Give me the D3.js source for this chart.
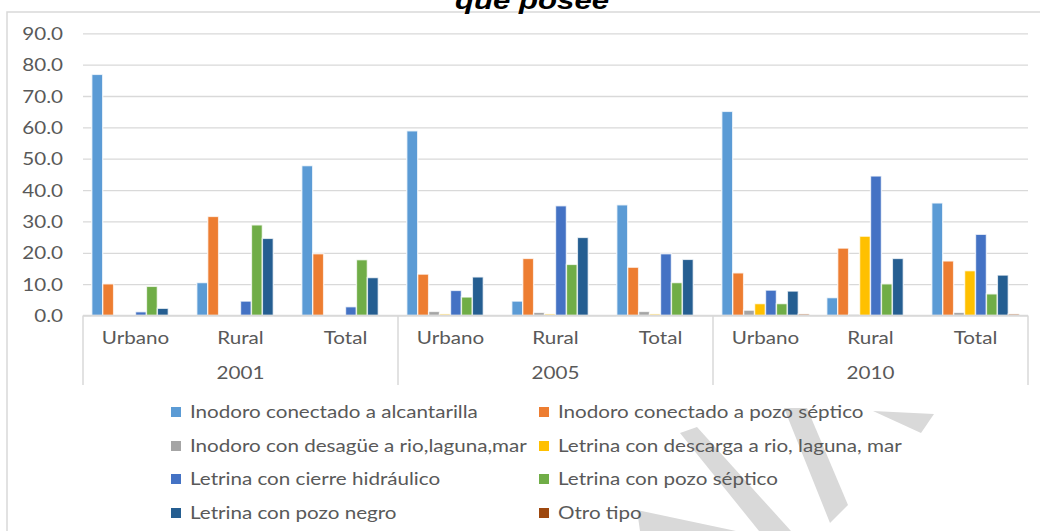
<!DOCTYPE html>
<html>
<head>
<meta charset="utf-8">
<script src="https://cdn.jsdelivr.net/npm/d3@7"></script>
<style>
  html, body { margin: 0; padding: 0; background: #fff; }
  svg { display: block; }
  text { font-family: Lato, "Open Sans", sans-serif; fill: #595959; }
</style>
</head>
<body>
<svg id="chart" width="1040" height="531"></svg>
<script>
// ---- data ----
const years = ["2001", "2005", "2010"];
const areas = ["Urbano", "Rural", "Total"];
const seriesNames = [
  "Inodoro conectado a alcantarilla",
  "Inodoro conectado a pozo séptico",
  "Inodoro con desagüe a rio,laguna,mar",
  "Letrina con descarga a rio, laguna, mar",
  "Letrina con cierre hidráulico",
  "Letrina con pozo séptico",
  "Letrina con pozo negro",
  "Otro tipo"
];
// values in order: 2001 Urbano, Rural, Total, 2005 Urbano, Rural, Total, 2010 Urbano, Rural, Total
const inodoroAlcantarilla = [76.9, 10.5, 47.8, 58.9, 4.6, 35.3, 65.1, 5.7, 35.9];
const inodoroPozoSeptico  = [10.1, 31.6, 19.7, 13.2, 18.2, 15.4, 13.6, 21.5, 17.4];
const inodoroDesague      = [0, 0, 0, 1.3, 1.0, 1.3, 1.7, 0.4, 1.0];
const letrinaDescarga     = [0, 0, 0, 0.5, 0.5, 0.5, 3.8, 25.3, 14.3];
const letrinaCierre       = [1.2, 4.6, 2.8, 8.0, 35.0, 19.7, 8.1, 44.5, 25.9];
const letrinaPozoSeptico  = [9.3, 28.9, 17.8, 5.9, 16.3, 10.5, 3.8, 10.1, 6.9];
const letrinaPozoNegro    = [2.3, 24.6, 12.1, 12.3, 24.9, 17.9, 7.8, 18.2, 12.9];
const otroTipo            = [0, 0, 0, 0, 0, 0, 0.5, 0, 0.5];
const yTicks = [0, 10, 20, 30, 40, 50, 60, 70, 80, 90];
const titleText = "que posee";

const seriesValues = [inodoroAlcantarilla, inodoroPozoSeptico, inodoroDesague, letrinaDescarga,
                      letrinaCierre, letrinaPozoSeptico, letrinaPozoNegro, otroTipo];
const colors = ["#5B9BD5", "#ED7D31", "#A5A5A5", "#FFC000", "#4472C4", "#70AD47", "#255E91", "#9E480E"];

// ---- layout ----
const svg = d3.select("#chart");
const L = 83, R = 1028, T = 33.3, B = 315.5;
const SX = 1.25;          // horizontal stretch of text
const FS = "16.5px";
const grid = "#d9d9d9";

// categories: year|area
const cats = [];
years.forEach(yr => areas.forEach(a => cats.push(yr + "|" + a)));

const x0 = d3.scaleBand().domain(cats).range([L, R]).padding(0);
const x1 = d3.scaleBand().domain(d3.range(seriesNames.length)).range([0, x0.bandwidth()])
  .paddingInner(0).paddingOuter(0.8);
const xYear = d3.scaleBand().domain(years).range([L, R]).padding(0);
const y = d3.scaleLinear().domain([0, 90]).range([B, T]);

// watermark (decorative)
const wm = svg.append("g").attr("fill", "#d9d9d9");
[
  [[680,433],[697,427],[791,531],[759,531]],
  [[784,408],[807,408],[848,505],[830,523]],
  [[873,411],[934,414],[921,433]],
  [[637,510],[736,531],[640,531]]
].forEach(p => wm.append("polygon").attr("points", p.map(q => q.join(",")).join(" ")));

// chart border
svg.append("rect").attr("x", 7).attr("y", 12).attr("width", 1060).attr("height", 560)
  .attr("fill", "none").attr("stroke", grid).attr("stroke-width", 1.5);

// title (cut off at the top, as in the source)
svg.append("text").attr("transform", `translate(532,8.5) scale(1.2,1)`)
  .attr("text-anchor", "middle")
  .style("font-family", "'Liberation Sans', Arial, sans-serif")
  .style("font-weight", "bold").style("font-style", "italic").style("font-size", "26px")
  .style("fill", "#000").text(titleText);

// y axis with gridlines
const yAxis = svg.append("g").attr("transform", `translate(${L},0)`)
  .call(d3.axisLeft(y).tickValues(yTicks).tickFormat(d3.format(".1f")).tickSize(-(R - L)).tickPadding(0));
yAxis.select(".domain").remove();
yAxis.selectAll(".tick line").attr("stroke", grid).attr("stroke-width", 1.3);
yAxis.selectAll(".tick text")
  .attr("x", null).attr("dy", null)
  .attr("transform", `translate(-20,0) scale(${SX},1)`)
  .attr("dominant-baseline", "central")
  .style("font-size", FS).style("fill", "#595959")
  .style("font-family", "Lato, sans-serif");

// bars
const bars = svg.append("g");
seriesValues.forEach((vals, si) => {
  bars.selectAll(null)
    .data(vals.map((v, ci) => ({ v, c: cats[ci] })).filter(d => d.v > 0))
    .join("rect")
    .attr("x", d => x0(d.c) + x1(si))
    .attr("width", x1.bandwidth())
    .attr("y", d => y(d.v))
    .attr("height", d => y(0) - y(d.v))
    .attr("fill", colors[si])
    .attr("stroke", "#fff").attr("stroke-opacity", 0.75).attr("stroke-width", 1.4);
});

// baseline
svg.append("line").attr("x1", L).attr("x2", R).attr("y1", y(0)).attr("y2", y(0))
  .attr("stroke", grid).attr("stroke-width", 1.5);

// category axis (two levels)
const catAxis = svg.append("g");
catAxis.selectAll("text.cat").data(cats).join("text")
  .attr("class", "cat")
  .attr("transform", d => `translate(${x0(d) + x0.bandwidth() / 2},338) scale(${SX},1)`)
  .attr("text-anchor", "middle").attr("dominant-baseline", "central")
  .style("font-size", FS)
  .text(d => d.split("|")[1]);
catAxis.selectAll("text.yr").data(years).join("text")
  .attr("class", "yr")
  .attr("transform", d => `translate(${xYear(d) + xYear.bandwidth() / 2},373) scale(${SX},1)`)
  .attr("text-anchor", "middle").attr("dominant-baseline", "central")
  .style("font-size", FS)
  .text(d => d);
const seps = years.map(d => xYear(d)).concat([R]);
catAxis.selectAll("line.sep").data(seps).join("line")
  .attr("x1", d => d).attr("x2", d => d).attr("y1", y(0)).attr("y2", 385)
  .attr("stroke", grid).attr("stroke-width", 1.5);

// legend
const legend = svg.append("g");
const colX = [171, 539], rowY = [412, 446, 479, 513];
seriesNames.forEach((name, i) => {
  const cx = colX[i % 2], cy = rowY[Math.floor(i / 2)];
  const g = legend.append("g");
  g.append("rect").attr("x", cx).attr("y", cy - 5).attr("width", 10).attr("height", 10).attr("fill", colors[i]);
  g.append("text").attr("transform", `translate(${cx + 19},${cy}) scale(${SX},1)`)
    .attr("dominant-baseline", "central").style("font-size", FS).text(name);
});
</script>
</body>
</html>
